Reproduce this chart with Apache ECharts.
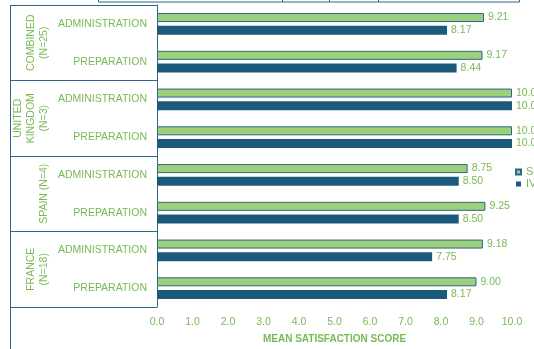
<!DOCTYPE html>
<html>
<head>
<meta charset="utf-8">
<script src="https://cdn.jsdelivr.net/npm/echarts@6/dist/echarts.min.js"></script>
<style>
html, body { margin: 0; padding: 0; background: #fff; }
#myChart { width: 534px; height: 349px; }
</style>
</head>
<body>
<div id="myChart"></div>
<script>
// data
var groups = ['COMBINED\n(N=25)', 'UNITED\nKINGDOM\n(N=3)', 'SPAIN (N=4)', 'FRANCE\n(N=18)'];
var tasks = ['ADMINISTRATION', 'PREPARATION'];
var seriesNames = ['SC', 'IV'];
var scValues = [9.21, 9.17, 10.00, 10.00, 8.75, 9.25, 9.18, 9.00];
var ivValues = [8.17, 8.44, 10.00, 10.00, 8.50, 8.50, 7.75, 8.17];
var xMin = 0, xMax = 10, xStep = 1;

var green = '#9dd07b';
var blue = '#1c5a7b';
var edge = '#2c6689';
var textGreen = '#78b956';
var font = '"Liberation Sans", Arial, sans-serif';

// one category per group/task pair
var categories = [];
groups.forEach(function(g, gi) {
	tasks.forEach(function(t) {
		categories.push(gi + '|' + t);
	});
});

var myChart = echarts.init(document.getElementById('myChart'));
var option = {
	backgroundColor: '#fff',
	animation: false,
	textStyle: { fontFamily: font },
	grid: { left: 157, right: 22, top: 5, bottom: 40, containLabel: false },
	legend: {
		orient: 'vertical',
		left: 515,
		top: 166,
		padding: 0,
		itemWidth: 5,
		itemHeight: 5,
		itemGap: 0,
		icon: 'rect',
		data: seriesNames,
		textStyle: { color: textGreen, fontSize: 11, fontFamily: font, lineHeight: 12 }
	},
	xAxis: {
		type: 'value',
		min: xMin,
		max: xMax,
		interval: xStep,
		name: 'MEAN SATISFACTION SCORE',
		nameLocation: 'middle',
		nameGap: 27,
		nameTextStyle: { color: textGreen, fontSize: 10, fontWeight: 'bold', fontFamily: font },
		axisLine: { show: false },
		axisTick: { show: false },
		splitLine: { show: false },
		axisLabel: {
			color: textGreen,
			fontSize: 10.5,
			margin: 10,
			formatter: function(v) { return v.toFixed(1); }
		}
	},
	yAxis: [{
		type: 'category',
		inverse: true,
		data: categories,
		axisLine: { show: true, lineStyle: { color: edge, width: 1 } },
		axisTick: { show: false },
		axisLabel: {
			interval: 0,
			color: textGreen,
			fontSize: 10.5,
			margin: 10,
			formatter: function(v) { return v.split('|')[1]; }
		}
	}, {
		type: 'category',
		inverse: true,
		position: 'left',
		data: groups,
		axisLine: { show: false },
		axisTick: { show: true, interval: 0, length: 147, lineStyle: { color: edge, width: 1 } },
		axisLabel: {
			interval: 0,
			hideOverlap: false,
			rotate: 90,
			color: textGreen,
			fontSize: 10.5,
			lineHeight: 13,
			margin: 106
		}
	}],
	graphic: [{
		type: 'line',
		shape: { x1: 10.5, y1: 5, x2: 10.5, y2: 349 },
		style: { stroke: edge, lineWidth: 1 }
	}, {
		type: 'rect',
		shape: { x: 98.5, y: -20, width: 421, height: 22 },
		style: { fill: 'none', stroke: edge, lineWidth: 1 }
	}, {
		type: 'line', shape: { x1: 282.5, y1: 0, x2: 282.5, y2: 2 }, style: { stroke: edge, lineWidth: 1 }
	}, {
		type: 'line', shape: { x1: 329.5, y1: 0, x2: 329.5, y2: 2 }, style: { stroke: edge, lineWidth: 1 }
	}, {
		type: 'line', shape: { x1: 378.5, y1: 0, x2: 378.5, y2: 2 }, style: { stroke: edge, lineWidth: 1 }
	}],
	series: [{
		name: seriesNames[0],
		type: 'bar',
		yAxisIndex: 0,
		data: scValues,
		barWidth: 9,
		barGap: '40%',
		itemStyle: { color: green, borderColor: edge, borderWidth: 1 },
		label: {
			show: true, position: 'right', distance: 4,
			color: textGreen, fontSize: 10.5,
			formatter: function(p) { return p.value.toFixed(2); }
		}
	}, {
		name: seriesNames[1],
		type: 'bar',
		yAxisIndex: 0,
		data: ivValues,
		barWidth: 9,
		barGap: '40%',
		itemStyle: { color: blue },
		label: {
			show: true, position: 'right', distance: 4,
			color: textGreen, fontSize: 10.5,
			formatter: function(p) { return p.value.toFixed(2); }
		}
	}]
};
myChart.setOption(option, true);
</script>
</body>
</html>
